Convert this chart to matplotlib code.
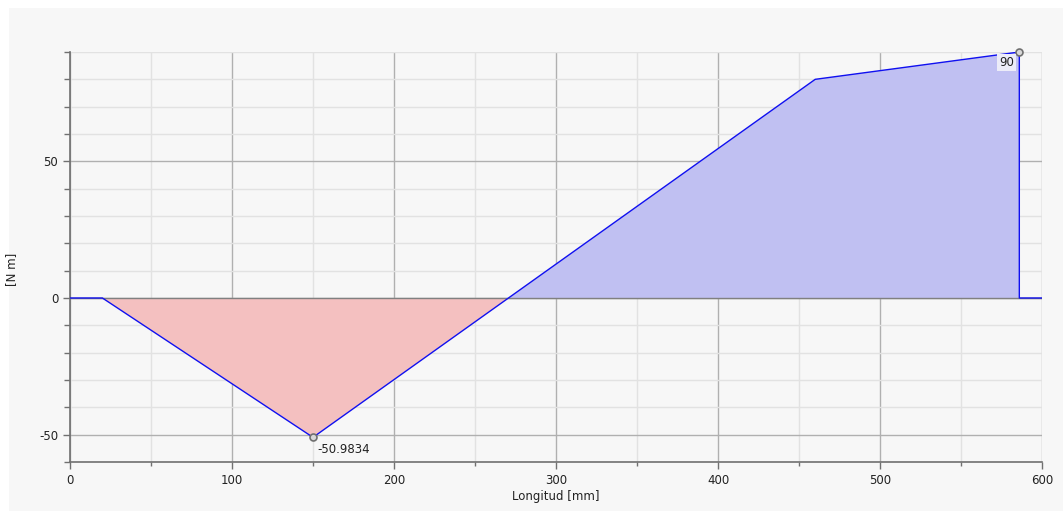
import numpy as np
import matplotlib.pyplot as plt
from matplotlib.patches import Rectangle
from matplotlib.ticker import MultipleLocator

plt.rcParams["axes.unicode_minus"] = False

# moment diagram along the shaft
pos_mm = [0, 20, 150, 460, 586, 586, 600]
moment = [0, 0, -50.9834, 80, 90, 0, 0]
min_label = "-50.9834"
max_label = "90"

fig = plt.figure(figsize=(10.63, 5.11), dpi=100)
fig.patch.set_facecolor("white")
fig.patches.append(Rectangle((9 / 1063, 0), 1, 1 - 8 / 511, transform=fig.transFigure,
                             facecolor="#f7f7f7", edgecolor="none", zorder=-1))

ax = fig.add_axes([70 / 1063, 1 - 462 / 511, (1042 - 70) / 1063, (462 - 52) / 511])
ax.set_facecolor("#f7f7f7")

x = np.array(pos_mm, dtype=float)
y = np.array(moment, dtype=float)
ax.fill_between(x, y, 0, where=y <= 0, interpolate=True, color="#f4c0c0", lw=0, zorder=2)
ax.fill_between(x, y, 0, where=y >= 0, interpolate=True, color="#c0c0f2", lw=0, zorder=2)
ax.plot(x, y, color="#1010f0", lw=1.0, zorder=4)

i_min = int(np.argmin(y))
i_max = int(np.argmax(y))
ax.plot([x[i_min], x[i_max]], [y[i_min], y[i_max]], "o", ms=5, mfc="#d8d8d8",
        mec="#707070", mew=1.2, zorder=5, clip_on=False)
ax.annotate(min_label, (x[i_min], y[i_min]), xytext=(3, -4), textcoords="offset points",
            ha="left", va="top", fontsize=8.5, color="#222222", zorder=6)
ax.annotate(max_label, (x[i_max], y[i_max]), xytext=(-4, -3), textcoords="offset points",
            ha="right", va="top", fontsize=8.5, color="#222222", zorder=6,
            bbox=dict(boxstyle="square,pad=0.15", fc="#ececf8", ec="none"))

ax.set_xlim(0, 600)
ax.set_ylim(-60, 90)
ax.xaxis.set_major_locator(MultipleLocator(100))
ax.xaxis.set_minor_locator(MultipleLocator(50))
ax.yaxis.set_major_locator(MultipleLocator(50))
ax.yaxis.set_minor_locator(MultipleLocator(10))

ax.grid(which="major", color="#b0b0b0", lw=1.0, zorder=1)
ax.grid(which="minor", color="#e2e2e2", lw=1.0, zorder=1)
ax.axhline(0, color="#808080", lw=1.0, zorder=3)
ax.set_axisbelow(True)

for side in ["top", "right"]:
    ax.spines[side].set_visible(False)
for side in ["left", "bottom"]:
    ax.spines[side].set_color("#707070")
    ax.spines[side].set_linewidth(1.2)

ax.tick_params(which="major", length=5, width=1, color="#707070", labelsize=8.5,
               labelcolor="#222222")
ax.tick_params(which="minor", length=3, width=1, color="#707070")
ax.tick_params(axis="y", which="minor", length=4)

ax.set_xlabel("Longitud [mm]", fontsize=8.5, color="#222222", labelpad=2)
ax.set_ylabel("[N m]", fontsize=8.5, color="#222222")
ax.yaxis.set_label_coords(-0.053, 0.47)

fig.savefig("out.png", dpi=100, facecolor=fig.get_facecolor())
